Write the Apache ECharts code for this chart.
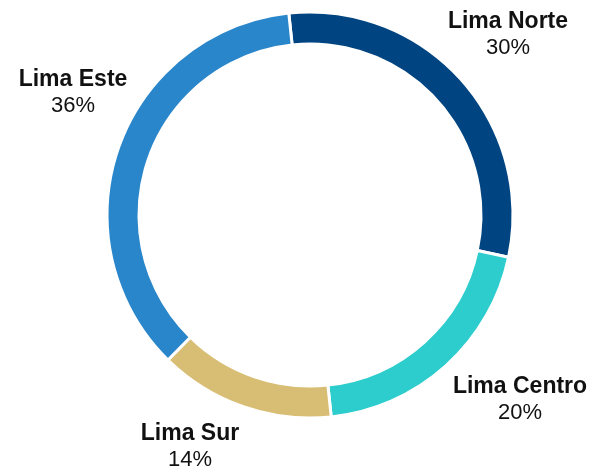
<!DOCTYPE html>
<html>
<head>
<meta charset="utf-8">
<script src="https://cdn.jsdelivr.net/npm/echarts@6/dist/echarts.min.js"></script>
<style>
    html, body { margin: 0; padding: 0; background: #fff; }
    #zones_chart { width: 590px; height: 467px; }
</style>
</head>
<body>
<div id="zones_chart"></div>
<script>
// Chart data
var zones = ['Lima Norte', 'Lima Centro', 'Lima Sur', 'Lima Este'];
var shares = [30, 20, 14, 36];
var zoneColors = ['#004481', '#2dcccd', '#d8be75', '#2a86ca'];

// Label anchors (block centre) for each zone, in px
var labelSpots = {
    'Lima Norte': [508, 35],
    'Lima Centro': [520, 400],
    'Lima Sur': [190, 447],
    'Lima Este': [73, 93]
};

var chart_element = document.getElementById('zones_chart');
var zones_chart = echarts.init(chart_element);

zones_chart.setOption({
    animation: false,
    textStyle: {
        fontFamily: '"Liberation Sans", Arial, sans-serif'
    },
    series: [{
        type: 'pie',
        center: [310, 215],
        radius: [171, 203],
        startAngle: 96,
        clockwise: true,
        avoidLabelOverlap: false,
        itemStyle: {
            borderColor: '#fff',
            borderWidth: 3
        },
        label: {
            show: true,
            position: 'outside',
            formatter: '{n|{b}}\n{p|{c}%}',
            rich: {
                n: {
                    fontFamily: '"Liberation Sans", Arial, sans-serif',
                    fontWeight: 'bold',
                    fontSize: 23,
                    color: '#111',
                    lineHeight: 26,
                    align: 'center'
                },
                p: {
                    fontFamily: '"Liberation Sans", Arial, sans-serif',
                    fontSize: 22,
                    color: '#111',
                    lineHeight: 26,
                    align: 'center'
                }
            }
        },
        labelLine: { show: false },
        labelLayout: function (params) {
            var spot = labelSpots[zones[params.dataIndex]];
            return {
                x: spot[0],
                y: spot[1],
                align: 'center',
                verticalAlign: 'middle'
            };
        },
        emphasis: { disabled: true },
        data: zones.map(function (name, i) {
            return {
                name: name,
                value: shares[i],
                itemStyle: { color: zoneColors[i] }
            };
        })
    }]
});
</script>
</body>
</html>
